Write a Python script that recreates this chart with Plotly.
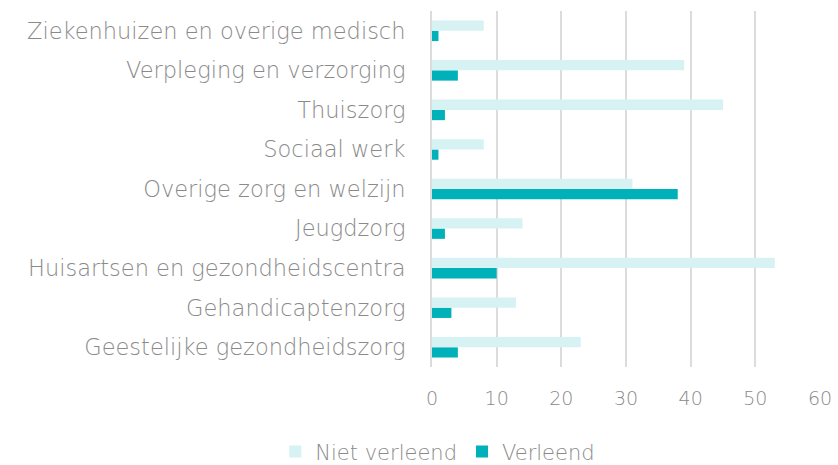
import plotly.graph_objects as go

categories = ["Geestelijke gezondheidszorg", "Gehandicaptenzorg", "Huisartsen en gezondheidscentra",
              "Jeugdzorg", "Overige zorg en welzijn", "Sociaal werk", "Thuiszorg",
              "Verpleging en verzorging", "Ziekenhuizen en overige medisch"]
niet_verleend = [23, 13, 53, 14, 31, 8, 45, 39, 8]
verleend = [4, 3, 10, 2, 38, 1, 2, 4, 1]
x_ticks = [0, 10, 20, 30, 40, 50, 60]

font_family = "'DejaVu Sans', sans-serif"
grey = "#8a8a8a"

fig = go.Figure()
fig.add_trace(go.Bar(y=categories, x=verleend, name="Verleend", orientation="h",
                     marker=dict(color="#00b1b9", line=dict(width=0))))
fig.add_trace(go.Bar(y=categories, x=niet_verleend, name="Niet verleend", orientation="h",
                     marker=dict(color="#d7f2f3", line=dict(width=0))))

fig.update_layout(
    width=838, height=465,
    barmode="group", bargap=0.48, bargroupgap=0,
    plot_bgcolor="white", paper_bgcolor="white",
    margin=dict(l=432, r=18, t=11, b=98, autoexpand=False),
    font=dict(family=font_family, size=19, color=grey, weight=300),
    xaxis=dict(range=[0, 60], tickvals=x_ticks, showgrid=True, gridcolor="#dcdcdc", gridwidth=2,
               zeroline=False, showline=False, ticks="", ticklabelstandoff=18, automargin=False,
               tickfont=dict(size=19, color=grey, weight=300)),
    yaxis=dict(showgrid=False, zeroline=False, showline=True, linecolor="#dcdcdc", linewidth=2,
               ticks="", ticklabelstandoff=20, automargin=False,
               tickfont=dict(size=22.5, color=grey, weight=300)),
    legend=dict(orientation="h", x=0.015, xanchor="center", y=-0.238, yanchor="middle",
                itemwidth=30, traceorder="reversed", font=dict(size=21, color=grey, weight=300)),
    showlegend=True,
)
fig.write_html("out.html", config={"displayModeBar": False},
               post_script="document.body.style.margin='0';")
